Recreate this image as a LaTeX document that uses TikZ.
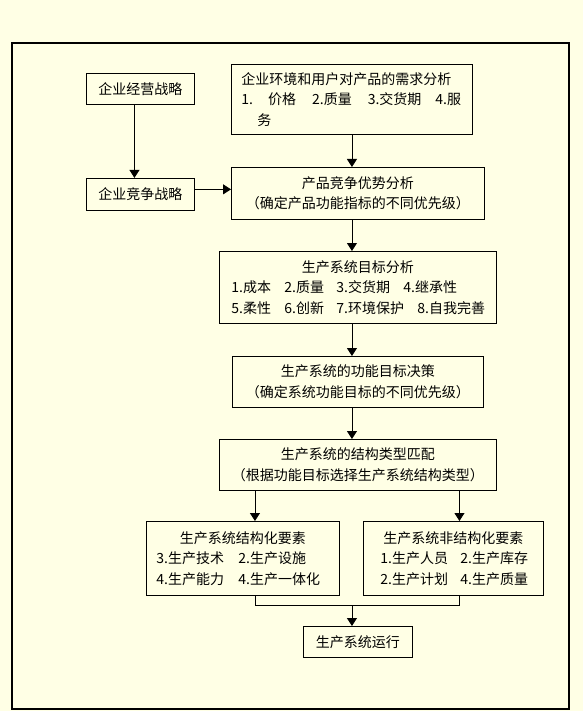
\documentclass[tikz,border=0pt]{standalone}
\usepackage{fontspec}
\setmainfont{Noto Sans CJK SC}
\usepackage{xcolor}
\usetikzlibrary{positioning}
\usetikzlibrary{arrows.meta}
\definecolor{paper}{RGB}{255, 255, 229}
\tikzstyle{stepbox} = [
	draw=black,
	line width=0.9pt,
	inner sep=0pt,
	anchor=north west,
	align=center,
	font=\fontsize{14}{20.5}\selectfont
]
\tikzstyle{flow} = [
	draw=black,
	line width=0.9pt,
	-{Triangle[length=8pt,width=10pt]}
]

\begin{document}
\begin{tikzpicture}[x=1pt, y=-1pt, node distance=0pt and 0pt]
	
	% Page and frame
	\fill[paper] (0,0) rectangle (583,711);
	\draw[line width=1.2pt] (12,43) rectangle (569,709);
	
	% Strategy column
	\node[stepbox, minimum width=108pt, minimum height=31pt] (bizstrat) at (86,73) {企业经营战略};
	\node[stepbox, minimum width=108pt, minimum height=32pt, below=73pt of bizstrat] (compstrat) {企业竞争战略};
	
	% Main column
	\node[stepbox, minimum width=241pt, minimum height=70pt, align=left, text width=221pt, inner xsep=10pt] (demand) at (231,64)
		{企业环境和用户对产品的需求分析\\
		\mbox{1.\hspace{15pt}价格\hspace{16pt}2.质量\hspace{16pt}3.交货期\hspace{14pt}4.服}\\
		\hspace{16pt}务};
	\node[stepbox, minimum width=253pt, minimum height=52pt] (advantage) at (231,167)
		{产品竞争优势分析\\（确定产品功能指标的不同优先级）};
	\node[stepbox, minimum width=277pt, minimum height=72pt] (goals) at (219,251)
		{生产系统目标分析\\
		\makebox[253pt][l]{\makebox[53pt][l]{1.成本}\makebox[52pt][l]{2.质量}\makebox[67pt][l]{3.交货期}4.继承性}\\
		\makebox[253pt][l]{\makebox[53pt][l]{5.柔性}\makebox[52pt][l]{6.创新}\makebox[81pt][l]{7.环境保护}8.自我完善}};
	\node[stepbox, minimum width=251pt, minimum height=51pt] (decision) at (232,356)
		{生产系统的功能目标决策\\（确定系统功能目标的不同优先级）};
	\node[stepbox, minimum width=277pt, minimum height=51pt] (match) at (219,439)
		{生产系统的结构类型匹配\\（根据功能目标选择生产系统结构类型）};
	
	% Element boxes
	\node[stepbox, minimum width=193pt, minimum height=74pt] (structel) at (146,521)
		{生产系统结构化要素\\
		\makebox[173pt][l]{\makebox[82pt][l]{3.生产技术}2.生产设施}\\
		\makebox[173pt][l]{\makebox[82pt][l]{4.生产能力}4.生产一体化}};
	\node[stepbox, minimum width=180pt, minimum height=74pt] (freeel) at (363,521)
		{生产系统非结构化要素\\
		\makebox[146pt][l]{\makebox[80pt][l]{1.生产人员}2.生产库存}\\
		\makebox[146pt][l]{\makebox[80pt][l]{2.生产计划}4.生产质量}};
	\node[stepbox, minimum width=109pt, minimum height=31pt] (run) at (303,626) {生产系统运行};
	
	% Connectors
	\draw[flow] ([xshift=-6pt]bizstrat.south) -- ([xshift=-6pt]compstrat.north);
	\draw[flow] ([yshift=5pt]compstrat.east) -- ([yshift=5pt]compstrat.east -| advantage.west);
	\draw[flow] (demand.south) -- (demand.south |- advantage.north);
	\draw[flow] (demand.south |- advantage.south) -- (demand.south |- goals.north);
	\draw[flow] (demand.south |- goals.south) -- (demand.south |- decision.north);
	\draw[flow] (demand.south |- decision.south) -- (demand.south |- match.north);
	\draw[flow] ([xshift=12pt]structel.north |- match.south) -- ([xshift=12pt]structel.north);
	\draw[flow] ([xshift=6pt]freeel.north |- match.south) -- ([xshift=6pt]freeel.north);
	\draw[line width=0.9pt] ([xshift=12pt]structel.south) -- ++(0,10) coordinate (join) -| ([xshift=6pt]freeel.south);
	\draw[flow] (join -| demand.south) -- (demand.south |- run.north);
	
\end{tikzpicture}
\end{document}
